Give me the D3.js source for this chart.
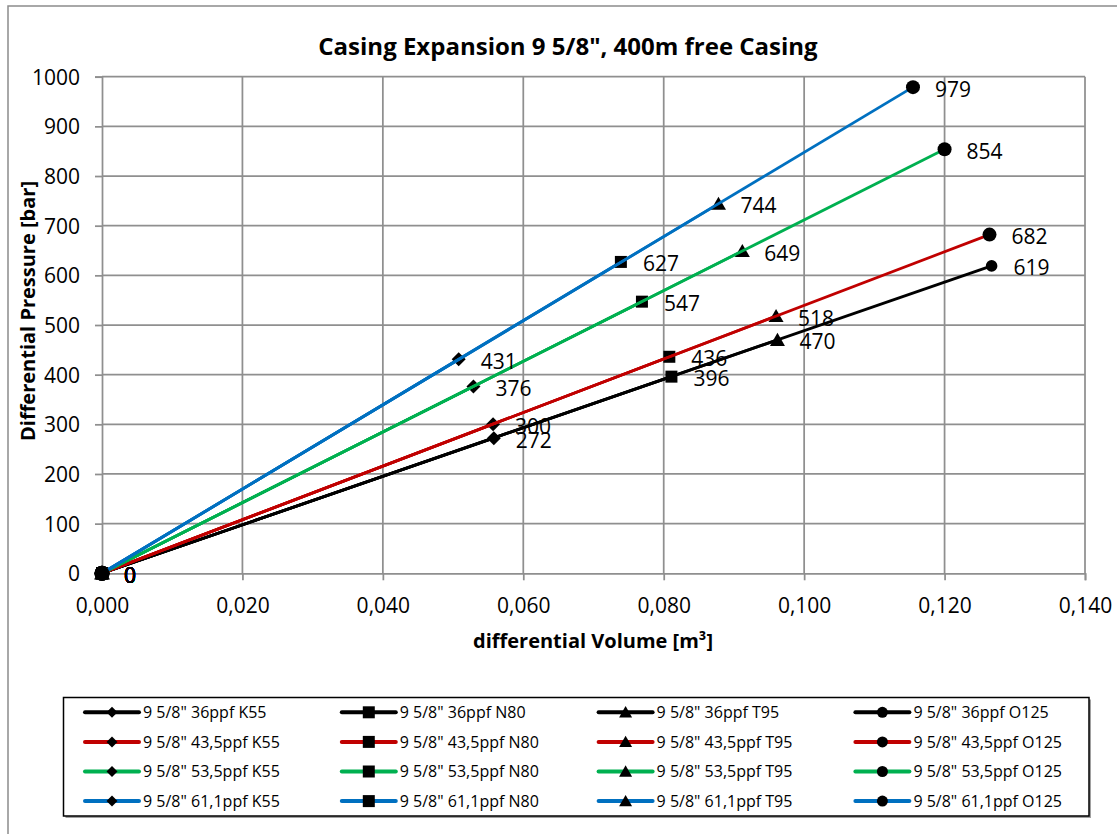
<!DOCTYPE html>
<html>
<head>
<meta charset="utf-8">
<script src="https://cdn.jsdelivr.net/npm/d3@7"></script>
<style>
  html, body { margin: 0; padding: 0; background: #fff; }
  svg { display: block; font-family: "Open Sans", "Noto Sans", sans-serif; }
</style>
</head>
<body>
<svg id="chart" width="1117" height="834"></svg>
<script>
// Casing weights (rows) and steel grades (columns)
const weights = ["36", "43,5", "53,5", "61,1"];
const grades = ["K55", "N80", "T95", "O125"];

// Differential volume [m³] at the rated pressure, one row per weight
const volumes = [
  [0.0558, 0.0811, 0.0962, 0.1267],
  [0.0557, 0.0808, 0.0960, 0.1264],
  [0.0529, 0.0769, 0.0912, 0.1200],
  [0.0508, 0.0739, 0.0878, 0.1155]
];

// Differential pressure [bar], one row per weight
const pressures = [
  [272, 396, 470, 619],
  [300, 436, 518, 682],
  [376, 547, 649, 854],
  [431, 627, 744, 979]
];

const xTicks = [0, 0.02, 0.04, 0.06, 0.08, 0.10, 0.12, 0.14];
const yTicks = [0, 100, 200, 300, 400, 500, 600, 700, 800, 900, 1000];

const titleText = "Casing Expansion 9 5/8\", 400m free Casing";
const xTitle = "differential Volume [m³]";
const yTitle = "Differential Pressure [bar]";

// Styling
const weightColors = ["#000000", "#C00000", "#00B050", "#0070C0"];
const gradeShapes = ["diamond", "square", "triangle", "circle"];
const gridColor = "#8f8f8f";

// Each series runs from the origin to its rated point
const series = [];
weights.forEach((w, i) => {
  grades.forEach((g, j) => {
    series.push({
      name: `9 5/8" ${w}ppf ${g}`,
      color: weightColors[i],
      shape: gradeShapes[j],
      row: i, col: j,
      points: [
        { v: 0, p: 0 },
        { v: volumes[i][j], p: pressures[i][j] }
      ]
    });
  });
});

const svg = d3.select("#chart");

// Outer chart frame
svg.append("rect")
  .attr("x", 8).attr("y", 6)
  .attr("width", 1130).attr("height", 850)
  .attr("fill", "#fff")
  .attr("stroke", "#8c8c8c").attr("stroke-width", 1.5);

const x = d3.scaleLinear().domain([0, 0.14]).range([102, 1085]);
const y = d3.scaleLinear().domain([0, 1000]).range([573.3, 76.7]);

const locale = d3.formatLocale({ decimal: ",", thousands: ".", grouping: [3], currency: ["", "€"] });
const fmtX = locale.format(".3f");

// Gridlines
const grid = svg.append("g");
grid.selectAll("line.h").data(yTicks.filter(d => d > 0)).join("line")
  .attr("x1", x(0)).attr("x2", x(0.14))
  .attr("y1", d => y(d)).attr("y2", d => y(d))
  .attr("stroke", gridColor).attr("stroke-width", 1.75);
grid.selectAll("line.v").data(xTicks.filter(d => d > 0)).join("line")
  .attr("x1", d => x(d)).attr("x2", d => x(d))
  .attr("y1", y(0)).attr("y2", y(1000))
  .attr("stroke", gridColor).attr("stroke-width", 1.75);

// Axes
const yAxis = svg.append("g")
  .attr("transform", `translate(${x(0)},0)`)
  .call(d3.axisLeft(y).tickValues(yTicks).tickFormat(d => d).tickSizeOuter(0).tickSize(7).tickPadding(15));
const xAxis = svg.append("g")
  .attr("transform", `translate(0,${y(0)})`)
  .call(d3.axisBottom(x).tickValues(xTicks).tickFormat(fmtX).tickSizeOuter(0).tickSize(7));

[yAxis, xAxis].forEach(a => {
  a.select(".domain").attr("stroke", gridColor).attr("stroke-width", 1.75);
  a.selectAll(".tick line").attr("stroke", gridColor).attr("stroke-width", 1.75);
  a.selectAll("text").attr("fill", "#000").style("font-size", "21px")
    .style("font-family", "\"Open Sans\", sans-serif");
});
yAxis.selectAll("text").attr("dy", "0.36em");
xAxis.selectAll("text").attr("y", 32).attr("dy", "0.36em");

// Marker path generator, r = half width
function markerPath(shape, r) {
  switch (shape) {
    case "diamond": return `M0,${-r}L${r},0L0,${r}L${-r},0Z`;
    case "square": return `M${-r},${-r}h${2 * r}v${2 * r}h${-2 * r}Z`;
    case "triangle": return `M0,${-r * 0.95}L${r},${r * 0.8}L${-r},${r * 0.8}Z`;
    default: return d3.arc()({ innerRadius: 0, outerRadius: r, startAngle: 0, endAngle: 2 * Math.PI });
  }
}
const plotMarkerSize = { diamond: 7, square: 6, triangle: 7.5, circle: 7 };
const smallCircle = 5.8;

const line = d3.line().x(d => x(d.v)).y(d => y(d.p));

// Series lines and markers
const plot = svg.append("g");
series.forEach(s => {
  const g = plot.append("g");
  g.append("path")
    .attr("d", line(s.points))
    .attr("fill", "none")
    .attr("stroke", s.color)
    .attr("stroke-width", 2.75);
  const r = (s.shape === "circle" && s.row === 0) ? smallCircle : plotMarkerSize[s.shape];
  g.selectAll("path.m").data(s.points).join("path")
    .attr("class", "m")
    .attr("transform", d => `translate(${x(d.v)},${y(d.p)})`)
    .attr("d", (d, k) => markerPath(s.shape, (k === 0 && s.shape === "circle") ? 7.5 : r))
    .attr("fill", "#000");
});

// Data labels
const labels = svg.append("g")
  .style("font-size", "21px")
  .style("font-family", "\"Open Sans\", sans-serif");
series.forEach(s => {
  labels.selectAll(null).data(s.points).join("text")
    .attr("x", d => x(d.v) + 22)
    .attr("y", d => y(d.p) + 2)
    .attr("dy", "0.36em")
    .attr("fill", "#000")
    .text(d => d.p);
});

// Title
svg.append("text")
  .attr("x", 568).attr("y", 46)
  .attr("dy", "0.36em")
  .attr("text-anchor", "middle")
  .style("font-size", "24px").style("font-weight", "bold")
  .text(titleText);

// Axis titles
svg.append("text")
  .attr("x", 593).attr("y", 641)
  .attr("dy", "0.36em")
  .attr("text-anchor", "middle")
  .style("font-size", "20px").style("font-weight", "bold")
  .text(xTitle);
svg.append("text")
  .attr("transform", "translate(28,311) rotate(-90)")
  .attr("dy", "0.36em")
  .attr("text-anchor", "middle")
  .style("font-size", "20px").style("font-weight", "bold")
  .text(yTitle);

// Legend
const lg = svg.append("g");
lg.append("rect")
  .attr("x", 65.5).attr("y", 699.5).attr("width", 1025.5).attr("height", 118.5)
  .attr("fill", "#a0a0a0");
lg.append("rect")
  .attr("x", 63.5).attr("y", 697.5).attr("width", 1025.5).attr("height", 118.5)
  .attr("fill", "#fff").attr("stroke", "#000").attr("stroke-width", 1.5);
const legendMarkerSize = { diamond: 5.5, square: 6, triangle: 6.5, circle: 5.5 };
series.forEach(s => {
  const lx = 85 + s.col * 256.8;
  const ly = 712.3 + s.row * 29.6;
  const e = lg.append("g").attr("transform", `translate(${lx},${ly})`);
  e.append("line").attr("x1", 0).attr("x2", 54).attr("y1", 0).attr("y2", 0)
    .attr("stroke", s.color).attr("stroke-width", 4).attr("stroke-linecap", "round");
  e.append("path").attr("transform", "translate(27,0)")
    .attr("d", markerPath(s.shape, legendMarkerSize[s.shape])).attr("fill", "#000");
  e.append("text").attr("x", 58).attr("dy", "0.36em")
    .style("font-size", "16px").attr("fill", "#000")
    .text(s.name);
});
</script>
</body>
</html>
